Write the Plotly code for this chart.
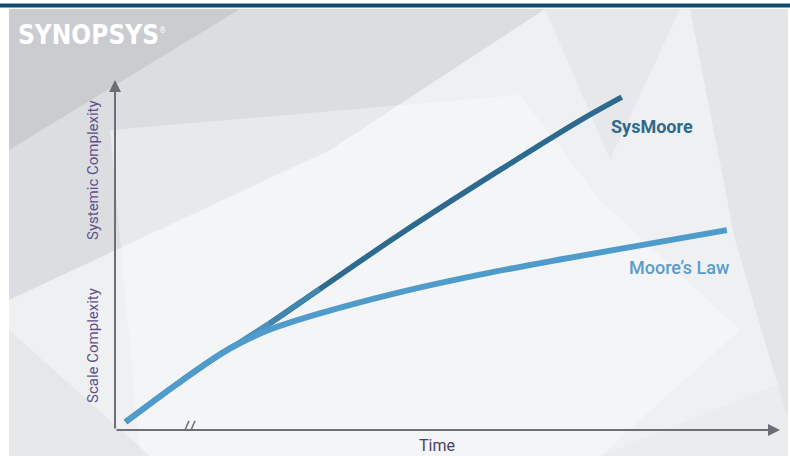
import plotly.graph_objects as go

# ---- data (x: time 0..100, y: complexity 0..100) ----
time_sysmoore = [1.6, 9.3, 15.8, 19.2, 23.3, 30.8, 42.9, 57.9, 69.9, 76.2]
sysmoore = [2.3, 13.1, 21.6, 25.5, 30.5, 40.3, 56.0, 74.3, 88.4, 95.1]
time_moore = [1.6, 9.3, 15.8, 19.2, 23.3, 30.8, 42.9, 54.9, 66.9, 79.4, 92.0]
moore = [2.3, 13.1, 21.6, 25.2, 28.7, 33.3, 39.4, 44.4, 48.7, 52.9, 57.1]

W, H = 790, 456
def px(x):
    return x / W
def py(y):
    return 1 - y / H

fig = go.Figure()

# SysMoore main (dark)
fig.add_trace(go.Scatter(x=time_sysmoore, y=sysmoore, mode="lines",
                         line=dict(color="#2c6a8f", width=5.5, shape="spline", smoothing=1.0),
                         hoverinfo="skip", showlegend=False))
# gradient near the divergence point
fig.add_trace(go.Scatter(x=time_sysmoore[3:5], y=sysmoore[3:5], mode="lines",
                         line=dict(color="#4b92be", width=5.5),
                         hoverinfo="skip", showlegend=False))
fig.add_trace(go.Scatter(x=time_sysmoore[4:6], y=sysmoore[4:6], mode="lines",
                         line=dict(color="#4286ae", width=5.5),
                         hoverinfo="skip", showlegend=False))
# Moore's law (light blue)
fig.add_trace(go.Scatter(x=time_moore, y=moore, mode="lines",
                         line=dict(color="#4f9bcb", width=6, shape="spline", smoothing=1.0),
                         hoverinfo="skip", showlegend=False))

shapes = []
# white frame + grey panel
shapes.append(dict(type="rect", xref="paper", yref="paper", x0=px(9), x1=px(788), y0=0, y1=py(9),
                   fillcolor="#eff0f2", line_width=0, layer="below"))
def poly(pts, color, op):
    path = "M " + " L ".join(f"{px(a):.4f},{py(b):.4f}" for a, b in pts) + " Z"
    shapes.append(dict(type="path", xref="paper", yref="paper", path=path,
                       fillcolor=color, opacity=op, line_width=0, layer="below"))
poly([(9, 9), (545, 9), (330, 150), (9, 300)], "#c3c5c9", 0.45)
poly([(9, 9), (240, 9), (9, 150)], "#b3b5b9", 0.4)
poly([(545, 9), (680, 9), (610, 160)], "#dadcdf", 0.4)
poly([(690, 9), (788, 9), (788, 420), (735, 240)], "#d3d5d8", 0.4)
poly([(110, 130), (520, 95), (600, 200), (740, 330), (600, 456), (140, 456)], "#ffffff", 0.35)
poly([(9, 330), (150, 456), (9, 456)], "#d8dadd", 0.4)
poly([(600, 456), (788, 380), (788, 456)], "#e4e6e9", 0.4)
# top bar
shapes.append(dict(type="rect", xref="paper", yref="paper", x0=0, x1=1, y0=py(7.5), y1=py(3.5),
                   fillcolor="#0f4c6e", line_width=0))
# axis-break mark
for dx in (-4, 2):
    shapes.append(dict(type="line", xref="x", yref="y",
                       x0=(185 + dx - 115) / 6.65, y0=-2.6, x1=(193 + dx - 115) / 6.65, y1=2.6,
                       line=dict(color="#6b6f76", width=1.5)))

axis_col = "#6b6f76"
annotations = [
    # axes with arrows
    dict(x=100, y=0, ax=0, ay=0, xref="x", yref="y", axref="x", ayref="y", text="",
         showarrow=True, arrowhead=2, arrowsize=1.2, arrowwidth=2, arrowcolor=axis_col),
    dict(x=0, y=100, ax=0, ay=0, xref="x", yref="y", axref="x", ayref="y", text="",
         showarrow=True, arrowhead=2, arrowsize=1.2, arrowwidth=2, arrowcolor=axis_col),
    # labels
    dict(x=80.7, y=86.6, xref="x", yref="y", text="<b>SysMoore</b>", showarrow=False,
         xanchor="center", yanchor="middle",
         font=dict(family="Roboto", size=18, color="#2f6a8c")),
    dict(x=84.9, y=46.3, xref="x", yref="y", text="Moore’s Law", showarrow=False,
         xanchor="center", yanchor="middle",
         font=dict(family="Roboto", size=18, color="#5a9ccb", weight=500)),
    dict(x=px(437), y=py(445), xref="paper", yref="paper", text="Time", showarrow=False,
         xanchor="center", yanchor="middle",
         font=dict(family="Roboto", size=16, color="#4a3f6b")),
    dict(x=px(93), y=py(170), xref="paper", yref="paper", text="Systemic Complexity",
         textangle=-90, showarrow=False, xanchor="center", yanchor="middle",
         font=dict(family="Roboto", size=15, color="#5f4f8e")),
    dict(x=px(93), y=py(346), xref="paper", yref="paper", text="Scale Complexity",
         textangle=-90, showarrow=False, xanchor="center", yanchor="middle",
         font=dict(family="Roboto", size=15, color="#5f4f8e")),
    # logo
    dict(x=px(16), y=py(35), xref="paper", yref="paper", xanchor="left", yanchor="middle",
         text="<b>SYNOPSYS</b><sup><span style='font-size:8px'>®</span></sup>", showarrow=False,
         font=dict(family="DejaVu Sans Condensed, DejaVu Sans, sans-serif", size=26, color="#ffffff")),
]

fig.update_layout(
    width=W, height=H, margin=dict(l=0, r=0, t=0, b=0),
    paper_bgcolor="#ffffff", plot_bgcolor="rgba(0,0,0,0)",
    xaxis=dict(domain=[px(115), px(780)], range=[0, 100], visible=False, fixedrange=True),
    yaxis=dict(domain=[py(430), py(80)], range=[0, 100], visible=False, fixedrange=True),
    shapes=shapes, annotations=annotations, showlegend=False,
)

fig.write_html("out.html")
